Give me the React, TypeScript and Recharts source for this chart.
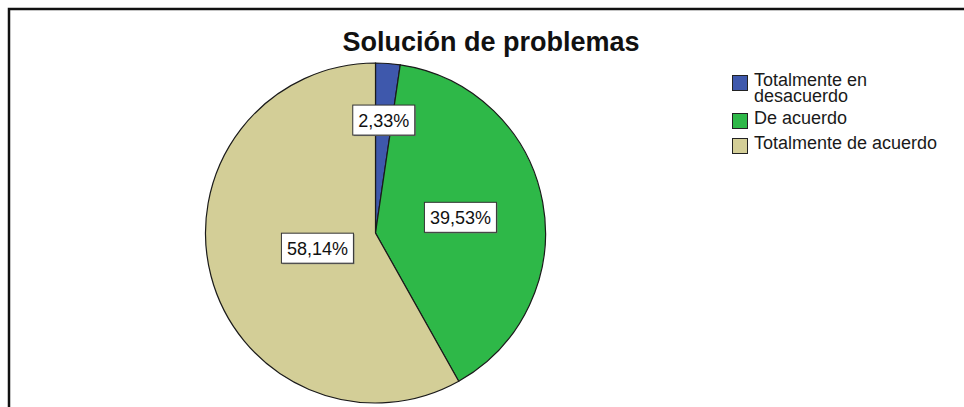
import { Cell, Legend, Pie, PieChart } from "recharts";

const CATEGORIAS = ["Totalmente en desacuerdo", "De acuerdo", "Totalmente de acuerdo"];
const FRECUENCIAS = [1, 17, 25];
const COLORES = ["#3e58ac", "#2eb848", "#d3ce97"];
const TITULO = "Solución de problemas";

const datos = CATEGORIAS.map((nombre, i) => ({ nombre, valor: FRECUENCIAS[i] }));

const RAD = Math.PI / 180;
const FUENTE = "'Liberation Sans', Arial, sans-serif";

// etiqueta en el centroide del sector, como SPSS
function EtiquetaPorcentaje(props: any) {
  const { cx, cy, midAngle, outerRadius, percent } = props;
  const alfa = percent * 2 * Math.PI;
  const d = (4 * outerRadius * Math.sin(alfa / 2)) / (3 * alfa);
  const x = cx + d * Math.cos(-midAngle * RAD);
  const y = cy + d * Math.sin(-midAngle * RAD);
  const texto = `${(percent * 100).toFixed(2).replace(".", ",")}%`;
  const ancho = texto.length * 10 + 12;
  const alto = 30;

  return (
    <g>
      <rect x={x - ancho / 2 + 1} y={y - alto / 2 + 1} width={ancho} height={alto} fill="#777" />
      <rect
        x={x - ancho / 2}
        y={y - alto / 2}
        width={ancho}
        height={alto}
        fill="#fff"
        stroke="#333"
        strokeWidth={1}
      />
      <text
        x={x}
        y={y + 1}
        textAnchor="middle"
        dominantBaseline="central"
        fontFamily={FUENTE}
        fontSize={18}
        fill="#111"
      >
        {texto}
      </text>
    </g>
  );
}

function LeyendaCategorias({ payload }: { payload?: any[] }) {
  if (!payload?.length) return null;
  const ordenados = [...payload].sort(
    (a, b) => CATEGORIAS.indexOf(a.value) - CATEGORIAS.indexOf(b.value)
  );

  return (
    <div style={{ fontFamily: FUENTE, fontSize: 18, lineHeight: "16px", color: "#1a1a1a" }}>
      {ordenados.map((item) => (
        <div
          key={item.value}
          style={{ display: "flex", alignItems: "flex-start", marginBottom: 6 }}
        >
          <span
            style={{
              width: 14,
              height: 14,
              marginTop: 3,
              marginRight: 6,
              flexShrink: 0,
              backgroundColor: item.color,
              border: "1px solid #222",
            }}
          />
          <span style={{ width: 195 }}>{item.value}</span>
        </div>
      ))}
    </div>
  );
}

export default function App() {
  return (
    <div style={{ position: "absolute", left: 0, top: 0, width: 964, height: 407, background: "#fff" }}>
      <svg width={964} height={407} style={{ position: "absolute", left: 0, top: 0 }}>
        <path d="M9 407 V9 H964" fill="none" stroke="#111" strokeWidth={2.5} />
        <text
          x={491}
          y={51}
          textAnchor="middle"
          fontFamily={FUENTE}
          fontWeight="bold"
          fontSize={27}
          fill="#111"
        >
          {TITULO}
        </text>
      </svg>
      <div style={{ position: "absolute", left: 0, top: 0 }}>
        <PieChart width={964} height={407} margin={{ top: 0, right: 0, bottom: 0, left: 0 }}>
          <Pie
            data={datos}
            dataKey="valor"
            nameKey="nombre"
            cx={375.5}
            cy={233}
            outerRadius={170}
            startAngle={90}
            endAngle={-270}
            stroke="#1a1a1a"
            strokeWidth={1.2}
            label={EtiquetaPorcentaje}
            labelLine={false}
            isAnimationActive={false}
          >
            {datos.map((d, i) => (
              <Cell key={d.nombre} fill={COLORES[i]} />
            ))}
          </Pie>
          <Legend
            layout="vertical"
            align="right"
            verticalAlign="top"
            content={<LeyendaCategorias />}
            wrapperStyle={{ left: 732, top: 72, width: 225, right: "auto" }}
          />
        </PieChart>
      </div>
    </div>
  );
}
